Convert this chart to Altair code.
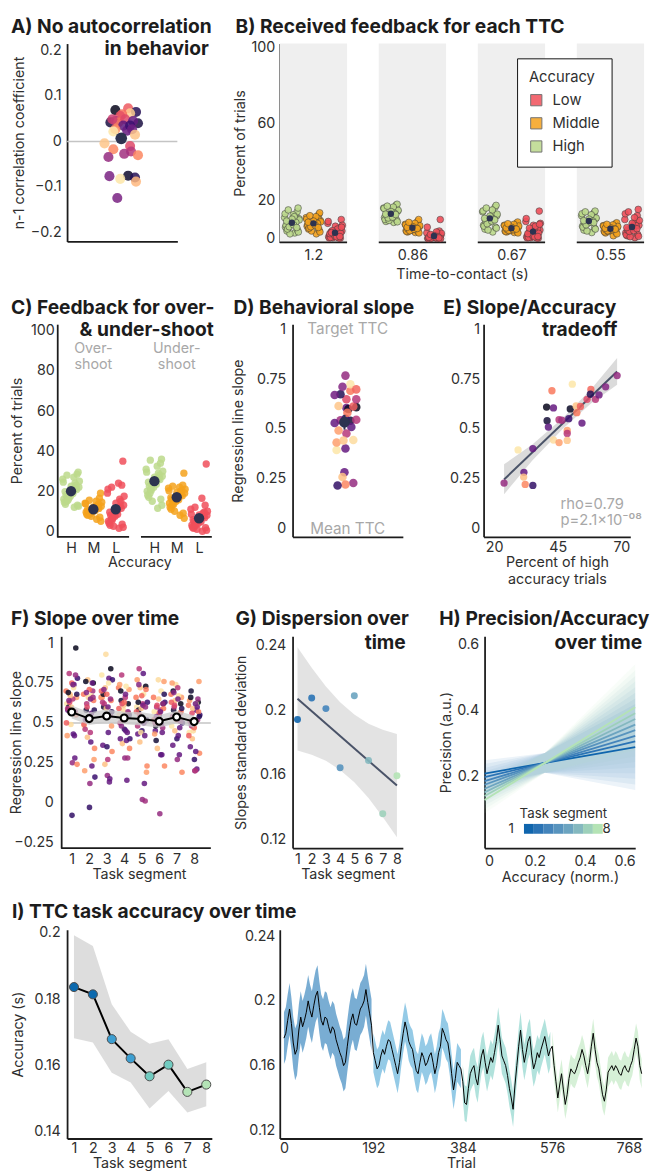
import altair as alt
import pandas as pd

FONT = "Inter"
INK = "#1c1c1c"
AXC = "#2f2f2f"
GRAY_T = "#a8a8a8"
NAVY = "#2d3350"
SLATE = "#4a5368"
RED, ORANGE, GREEN = "#f04f5a", "#f5a21c", "#bcd98b"
SEG_COLORS = ["#0f65ad", "#2a73b5", "#4484bb", "#5894be", "#6ca4c0", "#84b8bf", "#9dd0ba", "#b4e3b5"]
RUN_COLORS = ["#0b69ae", "#3c9ed1", "#71cbc0", "#b4e3b6"]
MAGMA = alt.Scale(scheme="magma", domain=[0, 1])

# ---------------- data ----------------
JIT = [0.12, -0.85, 0.47, -0.31, 0.93, -0.66, 0.05, 0.71, -0.52, 0.28,
       -0.97, 0.39, -0.14, 0.84, -0.43, 0.61, -0.78, 0.19, -0.25, 0.99,
       -0.59, 0.33, -0.07, 0.76, -0.91, 0.54, -0.36, 0.02, 0.88, -0.70,
       0.23, -0.48, 0.66]

SUBJ_HIGH = [23.9, 29.4, 31.7, 31.6, 32.2, 35.2, 35.2, 40.6, 40.8, 41.3,
             42.7, 43.3, 43.3, 45.5, 45.5, 46.6, 48.7, 48.7, 48.7, 49.3,
             49.9, 50.7, 52.2, 52.5, 53.9, 54.5, 56.5, 58.0, 57.8, 59.8,
             61.2, 63.8, 68.3]
SUBJ_SLOPE = [0.229, 0.395, 0.283, 0.259, 0.222, 0.402, 0.217, 0.610, 0.542, 0.510,
              0.692, 0.606, 0.445, 0.432, 0.547, 0.544, 0.493, 0.478, 0.443, 0.552,
              0.601, 0.725, 0.616, 0.582, 0.613, 0.530, 0.649, 0.699, 0.675, 0.649,
              0.671, 0.712, 0.768]
SUBJ_SHADE = [0.42, 0.95, 0.30, 0.87, 0.75, 0.30, 0.18, 0.05, 0.10, 0.28,
              0.72, 0.30, 0.93, 0.80, 0.50, 0.45, 0.80, 0.50, 0.88, 0.20,
              0.07, 0.95, 0.88, 0.72, 0.66, 0.30, 0.60, 0.68, 0.15, 0.50,
              0.33, 0.38, 0.42]
D_SPREAD = [9, -8, 0, -2, 1, 1, -7, 12, 6, 7,
            6, 2, 9, -8, 12, -4, -6, 2, -1, 1,
            4, 6, -6, 3, 9, -10, 2, 12, -4, 12,
            -10, -2, 1]
D_MEAN = [0.534, 0.497, 0.571]

A_R = [0.069, 0.073, 0.065, 0.062, 0.060, 0.056, 0.042, 0.045, 0.042, 0.040,
       0.049, 0.049, 0.045, 0.035, 0.027, 0.022, 0.024, 0.035, 0.027, 0.015,
       -0.004, -0.017, -0.010, -0.022, -0.027, -0.034, -0.030, -0.075, -0.079, -0.076,
       -0.082, -0.088, -0.124]
A_SHADE = [0.05, 0.65, 0.15, 0.90, 0.70, 0.62, 0.12, 0.45, 0.72, 0.12,
           0.55, 0.60, 0.30, 0.28, 0.75, 0.95, 0.30, 0.20, 0.32, 0.88,
           0.88, 0.75, 0.60, 0.50, 0.45, 0.42, 0.75, 0.08, 0.15, 0.35,
           0.95, 0.85, 0.35]
A_SPREAD = [-7, 6, 14, 8, 0, -2, -12, -7, -4, 16,
            -10, 3, 11, 1, -7, -9, 5, 8, 10, 13,
            -18, -9, 8, 9, 2, -14, 16, 6, 13, -13,
            -2, 14, -5]
A_MEAN = [0.007, -0.003, 0.017]

TTC = ["1.2", "0.86", "0.67", "0.55"]
ACC = ["High", "Middle", "Low"]
B_HIGH = [
    [9.5, 6.0, 12.0, 7.5, 10.5, 4.0, 8.8, 14.0, 5.5, 9.0, 11.0, 3.0, 8.0, 16.0, 6.5, 10.0, 7.0, 12.5, 2.5, 9.8, 5.0, 11.5, 7.8, 4.5, 13.0, 8.5, 6.2, 10.2, 3.5, 9.2, 7.2, 15.0, 5.8],
    [13.5, 11.0, 15.5, 12.0, 14.5, 9.0, 13.0, 17.5, 10.5, 14.0, 16.0, 8.5, 12.5, 18.0, 11.5, 15.0, 10.0, 13.8, 9.5, 14.8, 12.2, 16.5, 11.8, 9.8, 15.8, 13.2, 10.8, 14.2, 8.8, 12.8, 11.2, 17.0, 12.6],
    [10.5, 7.0, 13.0, 9.0, 12.0, 5.0, 10.8, 16.5, 7.5, 11.5, 14.0, 3.5, 10.0, 17.4, 8.0, 12.5, 6.5, 11.0, 4.5, 12.8, 9.5, 15.0, 8.5, 6.0, 14.5, 10.2, 7.8, 11.8, 5.5, 10.6, 9.2, 16.0, 9.8],
    [9.0, 6.5, 11.0, 8.0, 10.5, 4.5, 9.5, 13.5, 7.0, 10.0, 12.0, 3.2, 8.8, 14.4, 7.5, 11.2, 6.0, 9.8, 4.0, 10.8, 8.5, 12.5, 8.2, 5.5, 13.0, 9.2, 7.2, 10.2, 5.0, 9.4, 8.6, 14.0, 8.4],
]
B_MID = [
    [8.5, 6.5, 10.0, 7.0, 9.5, 5.0, 8.2, 12.5, 6.0, 9.0, 11.0, 2.5, 7.8, 13.5, 6.8, 10.5, 7.2, 9.8, 4.0, 8.8, 5.5, 11.5, 7.5, 4.5, 10.2, 8.0, 6.2, 9.2, 3.5, 8.6, 7.0, 12.0, 5.8],
    [5.5, 4.2, 7.0, 4.8, 6.2, 3.5, 5.8, 9.0, 4.0, 6.0, 7.5, 3.2, 5.2, 10.0, 4.5, 6.5, 3.8, 5.6, 4.4, 6.8, 5.0, 8.0, 4.6, 3.6, 7.2, 5.4, 4.1, 6.3, 3.0, 5.9, 4.9, 8.5, 5.3],
    [5.2, 4.0, 6.5, 4.6, 6.0, 3.5, 5.5, 8.0, 4.2, 5.8, 7.0, 3.2, 5.0, 8.7, 4.4, 6.2, 3.8, 5.3, 4.1, 6.6, 4.8, 7.5, 4.5, 3.6, 6.8, 5.1, 4.3, 5.9, 3.0, 5.6, 4.7, 7.8, 5.0],
    [5.0, 4.0, 6.2, 4.5, 5.8, 3.0, 5.3, 7.8, 4.2, 5.6, 6.8, 1.5, 4.8, 8.3, 4.3, 6.0, 3.5, 5.2, 3.8, 6.4, 4.6, 7.2, 4.4, 3.2, 6.6, 5.1, 4.1, 5.7, 2.5, 5.4, 4.7, 7.5, 4.9],
]
B_LOW = [
    [3.0, 1.0, 5.5, 0.5, 4.0, 2.0, 6.5, 0.2, 3.5, 1.5, 8.0, 0.8, 2.5, 10.0, 1.2, 4.5, 0.4, 3.8, 2.2, 7.0, 0.6, 5.0, 1.8, 2.8, 9.0, 0.3, 4.2, 1.4, 6.0, 2.6, 0.9, 3.2, 1.1],
    [1.0, 0.2, 2.5, 0.5, 1.8, 0.0, 1.2, 4.0, 0.3, 1.5, 3.0, 0.1, 0.8, 10.0, 0.4, 2.0, 0.0, 1.3, 0.6, 2.8, 0.2, 3.5, 0.9, 0.1, 6.0, 1.1, 0.3, 1.6, 0.0, 0.7, 0.5, 2.2, 0.4],
    [3.5, 1.0, 6.0, 0.5, 4.5, 2.0, 7.0, 0.2, 3.0, 1.5, 9.0, 0.8, 2.5, 14.4, 1.2, 5.0, 0.4, 3.8, 2.2, 8.0, 0.6, 6.5, 1.8, 2.8, 10.5, 0.3, 4.2, 1.4, 7.5, 2.6, 0.9, 5.5, 1.1],
    [6.0, 3.0, 8.5, 4.0, 7.0, 1.5, 6.5, 12.0, 2.5, 7.5, 10.0, 0.5, 5.5, 15.3, 3.5, 9.0, 2.0, 6.2, 1.0, 9.5, 4.5, 11.0, 5.0, 2.2, 13.0, 6.8, 3.8, 8.0, 1.2, 5.8, 4.2, 14.0, 5.2],
]
B_MEAN = {"High": [8.3, 13.0, 10.6, 9.2], "Middle": [8.0, 5.7, 5.4, 5.2], "Low": [3.1, 1.4, 3.7, 6.1]}

SHOOT = ["Over-shoot", "Under-shoot"]
SHOOT_LABEL = ["Over-\nshoot", "Under-\nshoot"]
C_VALUES = {
    ("Over-shoot", "High"): [20.5, 16.0, 24.0, 18.5, 22.0, 13.5, 19.5, 28.5, 15.0, 21.0, 26.0, 12.0, 19.0, 29.5, 17.0, 23.0, 14.5, 20.0, 16.5, 25.0, 18.0, 27.0, 17.5, 13.0, 24.5, 21.5, 15.5, 22.5, 12.5, 19.8, 18.8, 28.0, 20.8],
    ("Over-shoot", "Middle"): [11.0, 9.5, 13.0, 10.0, 12.5, 8.0, 11.5, 16.5, 9.0, 12.0, 14.0, 6.0, 10.5, 19.0, 9.2, 13.5, 8.5, 11.2, 7.5, 14.5, 10.2, 15.0, 9.8, 7.0, 13.8, 11.8, 8.8, 12.2, 5.0, 10.8, 10.4, 15.5, 11.4],
    ("Over-shoot", "Low"): [10.0, 5.0, 16.0, 7.0, 13.0, 3.0, 11.0, 23.0, 6.0, 12.0, 19.0, 1.5, 9.0, 35.0, 5.5, 15.0, 4.0, 10.5, 2.5, 17.5, 8.0, 24.0, 7.5, 3.5, 21.0, 12.5, 6.5, 14.0, 2.0, 9.5, 8.5, 22.0, 11.5],
    ("Under-shoot", "High"): [25.0, 20.0, 29.0, 23.0, 27.5, 17.0, 25.5, 34.0, 19.0, 26.0, 31.0, 11.5, 24.0, 36.0, 21.0, 28.0, 18.0, 25.2, 15.0, 30.0, 22.5, 32.5, 22.0, 16.0, 29.5, 26.5, 20.5, 27.0, 13.0, 24.5, 23.5, 35.5, 25.8],
    ("Under-shoot", "Middle"): [17.0, 14.0, 20.0, 15.5, 19.0, 11.0, 17.5, 23.0, 13.0, 18.0, 21.5, 8.0, 16.5, 29.0, 14.5, 20.5, 12.0, 17.2, 10.0, 21.0, 16.0, 22.0, 15.0, 9.0, 20.2, 18.5, 13.5, 19.5, 6.5, 16.8, 15.8, 22.5, 17.8],
    ("Under-shoot", "Low"): [6.0, 3.0, 9.0, 4.5, 8.0, 1.5, 6.5, 13.0, 2.5, 7.0, 11.0, 0.0, 5.5, 33.6, 3.5, 9.5, 2.0, 6.2, 1.0, 10.0, 5.0, 16.5, 4.0, 1.8, 8.5, 7.5, 3.2, 8.2, 0.5, 5.8, 4.8, 12.0, 6.8],
}
C_MEAN = {("Over-shoot", "High"): 20, ("Over-shoot", "Middle"): 11, ("Over-shoot", "Low"): 11,
          ("Under-shoot", "High"): 25, ("Under-shoot", "Middle"): 17, ("Under-shoot", "Low"): 6.5}

E_FIT_X = [23.9, 68.3]
E_FIT_Y = [0.247, 0.789]
E_CI_X = [23.9, 35.0, 47.0, 58.0, 68.3]
E_CI_LO = [0.173, 0.342, 0.502, 0.628, 0.722]
E_CI_HI = [0.323, 0.422, 0.556, 0.698, 0.856]

SEGMENTS = [1, 2, 3, 4, 5, 6, 7, 8]
SEG_RUN = [1, 1, 2, 2, 3, 3, 4, 4]
F_SLOPES = [
    [0.25, 0.62, 0.42, 0.68, 0.24, 0.58, -0.08, 0.97, 0.60, 0.43, 0.70, 0.74, 0.49, 0.66, 0.81, 0.57, 0.42, 0.65, 0.67, 0.78, 0.69, 0.72, 0.60, 0.55, 0.50, 0.28, 0.63, 0.75, 0.68, 0.59, 0.74, 0.64, 0.80],
    [0.12, 0.48, 0.23, 0.41, 0.34, 0.52, -0.03, 0.75, 0.58, 0.38, 0.68, 0.56, 0.66, 0.27, 0.62, 0.70, 0.20, 0.44, 0.77, 0.16, 0.76, 0.67, 0.53, 0.64, 0.49, 0.75, 0.60, 0.71, 0.58, 0.46, 0.65, 0.69, 0.66],
    [0.17, 0.80, 0.13, 0.24, 0.32, 0.36, 0.35, 0.84, 0.60, 0.44, 0.66, 0.78, 0.93, 0.48, 0.62, 0.55, 0.66, 0.27, 0.72, 0.77, 0.68, 0.75, 0.59, 0.64, 0.70, 0.15, 0.54, 0.68, 0.57, 0.63, 0.60, 0.71, 0.65],
    [0.28, 0.55, 0.14, 0.37, 0.34, 0.40, 0.46, 0.62, 0.64, 0.45, 0.72, 0.39, 0.58, 0.71, 0.80, 0.28, 0.74, 0.66, 0.52, 0.40, 0.70, 0.73, 0.61, 0.56, 0.59, 0.44, 0.62, 0.63, 0.55, 0.50, 0.68, 0.48, 0.57],
    [0.02, 0.60, 0.12, 0.38, 0.23, 0.43, 0.45, 0.73, 0.58, 0.81, 0.66, 0.50, 0.44, 0.19, 0.84, 0.01, 0.77, 0.62, 0.72, 0.63, 0.63, 0.68, 0.59, 0.71, 0.57, 0.42, 0.55, 0.67, 0.52, 0.48, 0.61, 0.74, 0.60],
    [-0.07, 0.57, 0.30, 0.34, 0.23, 0.45, 0.55, 0.62, 0.39, 0.30, 0.66, 0.49, 0.77, 0.76, 0.60, 0.47, 0.43, 0.58, 0.53, 0.63, 0.48, 0.70, 0.65, 0.59, 0.52, 0.44, 0.61, 0.56, 0.68, 0.50, 0.57, 0.54, 0.62],
    [0.27, 0.48, 0.30, 0.45, 0.19, 0.36, 0.40, 0.62, 0.58, 0.42, 0.68, 0.53, 0.74, 0.66, 0.60, 0.56, 0.75, 0.72, 0.64, 0.50, 0.70, 0.67, 0.55, 0.57, 0.63, 0.47, 0.61, 0.52, 0.59, 0.54, 0.65, 0.69, 0.51],
    [0.20, 0.44, 0.21, 0.40, 0.31, 0.35, 0.27, 0.63, 0.70, 0.32, 0.61, 0.58, 0.45, 0.76, 0.48, 0.52, 0.64, 0.20, 0.59, 0.55, 0.66, 0.62, 0.50, 0.57, 0.42, 0.60, 0.56, 0.47, 0.54, 0.51, 0.62, 0.49, 0.65],
]
F_MEAN = [0.568, 0.527, 0.543, 0.531, 0.525, 0.510, 0.537, 0.508]
F_LO = [0.527, 0.487, 0.502, 0.492, 0.483, 0.470, 0.498, 0.470]
F_HI = [0.609, 0.567, 0.584, 0.570, 0.567, 0.550, 0.576, 0.546]

G_SD = [0.1942, 0.2075, 0.2009, 0.1643, 0.2089, 0.1688, 0.1357, 0.1593]
G_FIT_X = [1, 8]
G_FIT_Y = [0.207, 0.1532]
G_CI_LO = [0.175, 0.1723, 0.1686, 0.1629, 0.1552, 0.1455, 0.1338, 0.1212]
G_CI_HI = [0.239, 0.2263, 0.2146, 0.2049, 0.1972, 0.1915, 0.1878, 0.1852]

H_LINE_X = [0.0, 0.6]
H_Y0 = [0.210, 0.199, 0.187, 0.176, 0.164, 0.153, 0.142, 0.130]
H_Y1 = [0.290, 0.307, 0.324, 0.341, 0.358, 0.375, 0.392, 0.410]
H_FAN_X = [0.0, 0.24, 0.6]
H_FAN_LO = [[0.170, 0.212, 0.160], [0.159, 0.212, 0.177], [0.147, 0.212, 0.194], [0.136, 0.212, 0.211],
            [0.124, 0.212, 0.228], [0.113, 0.212, 0.245], [0.102, 0.212, 0.262], [0.090, 0.212, 0.280]]
H_FAN_HI = [[0.250, 0.272, 0.420], [0.239, 0.272, 0.437], [0.227, 0.272, 0.454], [0.216, 0.272, 0.471],
            [0.204, 0.272, 0.488], [0.193, 0.272, 0.505], [0.182, 0.272, 0.522], [0.170, 0.272, 0.540]]

I_ACC = [0.1837, 0.1815, 0.1680, 0.1622, 0.1568, 0.1603, 0.1521, 0.1543]
I_LO = [0.1683, 0.1670, 0.1579, 0.1549, 0.1471, 0.1524, 0.1459, 0.1478]
I_HI = [0.1993, 0.1961, 0.1785, 0.1702, 0.1666, 0.1680, 0.1590, 0.1610]

RUNS = [1, 2, 3, 4]
RUN_ACC = [
    [0.177, 0.180, 0.188, 0.195, 0.186, 0.174, 0.167, 0.170, 0.182, 0.190,
     0.184, 0.188, 0.193, 0.200, 0.194, 0.190, 0.197, 0.203, 0.206, 0.196,
     0.188, 0.185, 0.190, 0.189, 0.184, 0.180, 0.184, 0.182, 0.176, 0.172,
     0.168, 0.165, 0.160, 0.162, 0.172, 0.181, 0.188, 0.192, 0.186, 0.185,
     0.190, 0.195, 0.197, 0.200, 0.207, 0.199, 0.192, 0.185],
    [0.168, 0.163, 0.158, 0.160, 0.166, 0.170, 0.167, 0.172, 0.176, 0.175,
     0.170, 0.165, 0.160, 0.155, 0.162, 0.172, 0.180, 0.187, 0.182, 0.175,
     0.172, 0.170, 0.163, 0.157, 0.155, 0.162, 0.168, 0.165, 0.160, 0.162,
     0.166, 0.168, 0.162, 0.155, 0.160, 0.168, 0.172, 0.183, 0.180, 0.176,
     0.174, 0.166, 0.155, 0.145, 0.152, 0.162, 0.160, 0.158],
    [0.150, 0.137, 0.136, 0.146, 0.155, 0.158, 0.160, 0.152, 0.148, 0.158,
     0.166, 0.170, 0.162, 0.155, 0.160, 0.165, 0.162, 0.168, 0.175, 0.185,
     0.176, 0.166, 0.163, 0.160, 0.154, 0.146, 0.140, 0.133, 0.148, 0.160,
     0.172, 0.182, 0.170, 0.162, 0.168, 0.175, 0.178, 0.166, 0.158, 0.162,
     0.168, 0.165, 0.170, 0.174, 0.178, 0.172, 0.166, 0.170],
    [0.172, 0.160, 0.150, 0.140, 0.148, 0.155, 0.145, 0.136, 0.142, 0.152,
     0.158, 0.156, 0.155, 0.158, 0.162, 0.165, 0.170, 0.166, 0.160, 0.155,
     0.162, 0.172, 0.180, 0.170, 0.162, 0.158, 0.150, 0.142, 0.138, 0.145,
     0.156, 0.158, 0.160, 0.157, 0.160, 0.158, 0.155, 0.154, 0.158, 0.160,
     0.157, 0.156, 0.160, 0.163, 0.170, 0.177, 0.172, 0.160, 0.155],
]
RUN_HALFWIDTH = [0.016, 0.012, 0.011, 0.009]
TRIALS_PER_RUN = 192
TRIAL_STEP = 4


# ---------------- helpers ----------------
def sc(lo, hi):
    return alt.Scale(domain=[lo, hi], nice=False, zero=False)


def X(field, s, ax):
    return alt.X(f"{field}:Q", scale=s, axis=ax)


def Y(field, s, ax, **kw):
    return alt.Y(f"{field}:Q", scale=s, axis=ax, **kw)


def tx(text, x, base, align="left", size=19.5, weight="bold", color=INK):
    # `base` is the text baseline; drawn with a top baseline for tight bounds
    return alt.Chart(pd.DataFrame({"t": [text]})).mark_text(
        align=align, baseline="top", font=FONT, fontSize=size,
        fontWeight=weight, color=color).encode(
        text="t:N", x=alt.value(x), y=alt.value(round(base - 0.79 * size, 1)))


shade_color = alt.Color("shade:Q", scale=MAGMA, legend=None)

# ---------------- A ----------------
a_xs, a_ys = sc(-56, 56), sc(-0.2195, 0.2151)
a_xax = alt.Axis(labels=False, title=None)
a_yax = alt.Axis(values=[-0.2, -0.1, 0, 0.1, 0.2], format=".1~f", labelPadding=6,
                 title="n-1 correlation coefficient", titleX=-48, titleBaseline="middle")
a_df = pd.DataFrame({"sx": A_SPREAD, "r": A_R, "shade": A_SHADE})
a_mean = pd.DataFrame({"sx": [-1], "r": [A_MEAN[0]], "lo": [A_MEAN[1]], "hi": [A_MEAN[2]]})
panel_a = alt.layer(
    alt.Chart(pd.DataFrame({"r": [0.0]})).mark_rule(color="#c4c4c4", strokeWidth=1.5).encode(
        y=Y("r", a_ys, a_yax)),
    alt.Chart(a_df).mark_circle(size=105, opacity=0.85).encode(
        x=X("sx", a_xs, a_xax), y=Y("r", a_ys, a_yax), color=shade_color),
    alt.Chart(a_mean).mark_rule(color=NAVY, strokeWidth=2).encode(
        x=X("sx", a_xs, a_xax), y=Y("lo", a_ys, a_yax), y2="hi:Q"),
    alt.Chart(a_mean).mark_circle(size=140, color=NAVY, opacity=1).encode(
        x=X("sx", a_xs, a_xax), y=Y("r", a_ys, a_yax)),
    tx("A) No autocorrelation", -57, -10),
    tx("in behavior", 144, 12.5, align="right"),
).properties(width=112, height=201)

# ---------------- B ----------------
b_xs, b_ys = sc(0, 3.68), sc(-2, 102)
B_OFF = {"High": 0.122, "Middle": 0.34, "Low": 0.558}
ttc_expr = "[" + ",".join(f"'{t}'" for t in TTC) + "][floor(datum.value)]"
b_xax = alt.Axis(values=[i + 0.34 for i in range(len(TTC))], labelExpr=ttc_expr, domain=False,
                 title="Time-to-contact (s)", titleY=26, labelPadding=6)
b_yax = alt.Axis(values=[0, 20, 60, 100], title="Percent of trials", titleX=-40, titleBaseline="middle",
                 labelPadding=5)
b_rows, b_means = [], []
for ti, t in enumerate(TTC):
    for acc, lists in (("High", B_HIGH), ("Middle", B_MID), ("Low", B_LOW)):
        for i, v in enumerate(lists[ti]):
            b_rows.append({"acc": acc, "pct": v, "bx": ti + B_OFF[acc] + JIT[i] * 0.075})
        b_means.append({"pct": B_MEAN[acc][ti], "bx": ti + B_OFF[acc]})
b_df, b_mdf = pd.DataFrame(b_rows), pd.DataFrame(b_means)
b_band = pd.DataFrame({"bx": [float(i) for i in range(4)], "bx2": [i + 0.68 for i in range(4)],
                       "y0": [-2.0] * 4, "y1": [102.0] * 4})
b_color = alt.Color("acc:N", scale=alt.Scale(domain=["Low", "Middle", "High"], range=[RED, ORANGE, GREEN]),
                    legend=alt.Legend(title="Accuracy", orient="none", legendX=241, legendY=15,
                                      symbolType="square", symbolSize=130, symbolStrokeColor="#5a5a5a",
                                      symbolStrokeWidth=1, symbolOpacity=0.85, padding=12,
                                      strokeColor="#111111", fillColor="white", titleFontSize=15,
                                      labelFontSize=15, rowPadding=6.5, titlePadding=8, labelOffset=9))
panel_b = alt.layer(
    alt.Chart(b_band).mark_rect(color="#efefef").encode(
        x=X("bx", b_xs, b_xax), x2="bx2:Q", y=Y("y0", b_ys, b_yax), y2="y1:Q"),
    alt.Chart(b_band).mark_rule(color=INK, strokeWidth=1.8).encode(
        x=X("bx", b_xs, b_xax), x2="bx2:Q", y=Y("y0", b_ys, b_yax)),
    alt.Chart(b_df).mark_circle(size=46, opacity=0.9, stroke="#3b3b3b", strokeWidth=0.6).encode(
        x=X("bx", b_xs, b_xax), y=Y("pct", b_ys, b_yax), color=b_color),
    alt.Chart(b_mdf).mark_circle(size=42, color=NAVY, opacity=1).encode(
        x=X("bx", b_xs, b_xax), y=Y("pct", b_ys, b_yax)),
    tx("B) Received feedback for each TTC", -45, -10),
).properties(width=370, height=202)

# ---------------- C ----------------
C_SLOTS = {"Over-shoot": {"High": 0.0, "Middle": 1.0, "Low": 2.0},
           "Under-shoot": {"High": 3.73, "Middle": 4.73, "Low": 5.73}}
c_xs, c_ys = sc(-0.176, 6.30), sc(-2.8, 103.4)
c_xax = alt.Axis(values=[0, 1, 2, 3.73, 4.73, 5.73],
                 labelExpr="['H','M','L'][round(datum.value > 3 ? datum.value - 3.73 : datum.value)]",
                 domain=False, title="Accuracy", titleY=19.5, labelPadding=4.5)
c_yax = alt.Axis(values=[0, 20, 40, 60, 80, 100], title="Percent of trials", titleX=-40,
                 titleBaseline="middle", offset=10, labelPadding=3)
c_rows, c_means = [], []
for sh in SHOOT:
    for acc in ACC:
        for i, v in enumerate(C_VALUES[(sh, acc)]):
            c_rows.append({"acc": acc, "pct": v, "cx": C_SLOTS[sh][acc] + JIT[i] * 0.38})
        c_means.append({"pct": C_MEAN[(sh, acc)], "cx": C_SLOTS[sh][acc]})
c_df, c_mdf = pd.DataFrame(c_rows), pd.DataFrame(c_means)
c_axis_df = pd.DataFrame({"cx": [-0.617, 3.13], "cx2": [2.599, 6.3], "y0": [-2.8, -2.8]})
c_lab = pd.DataFrame({"cx": [C_SLOTS[s]["Middle"] for s in SHOOT], "t": SHOOT_LABEL})
acc_color = alt.Color("acc:N", scale=alt.Scale(domain=["Low", "Middle", "High"], range=[RED, ORANGE, GREEN]),
                      legend=None)
panel_c = alt.layer(
    alt.Chart(c_axis_df).mark_rule(color=INK, strokeWidth=1.8).encode(
        x=X("cx", c_xs, c_xax), x2="cx2:Q", y=Y("y0", c_ys, c_yax)),
    alt.Chart(c_df).mark_circle(size=55, opacity=0.85).encode(
        x=X("cx", c_xs, c_xax), y=Y("pct", c_ys, c_yax), color=acc_color),
    alt.Chart(c_mdf).mark_circle(size=110, color=NAVY, opacity=1).encode(
        x=X("cx", c_xs, c_xax), y=Y("pct", c_ys, c_yax)),
    alt.Chart(c_lab).mark_text(lineBreak="\n", lineHeight=17, baseline="top", align="center",
                               fontSize=14.5, color=GRAY_T, font=FONT).encode(
        x=X("cx", c_xs, c_xax), y=alt.value(18), text="t:N"),
    tx("C) Feedback for over-", -57, -10),
    tx("& under-shoot", 149, 12.5, align="right"),
).properties(width=147, height=216)

# ---------------- D ----------------
d_xs, d_ys = sc(-52.7, 59.3), sc(-0.041, 1.026)
d_xax = alt.Axis(labels=False, title=None)
d_yax = alt.Axis(values=[0, 0.25, 0.5, 0.75, 1], format=".2~f", title="Regression line slope",
                 titleX=-55, titleBaseline="middle", labelPadding=7)
d_df = pd.DataFrame({"sx": D_SPREAD, "slope": SUBJ_SLOPE, "shade": SUBJ_SHADE})
d_mean = pd.DataFrame({"sx": [0], "slope": [D_MEAN[0]], "lo": [D_MEAN[1]], "hi": [D_MEAN[2]]})
d_txt = pd.DataFrame({"t": ["Target TTC", "Mean TTC"], "slope": [1.0, 0.0]})
panel_d = alt.layer(
    alt.Chart(d_txt).mark_text(baseline="middle", align="center", fontSize=15.5, color=GRAY_T, font=FONT).encode(
        x=alt.value(56), y=Y("slope", d_ys, d_yax), text="t:N"),
    alt.Chart(d_df).mark_circle(size=75, opacity=0.85).encode(
        x=X("sx", d_xs, d_xax), y=Y("slope", d_ys, d_yax), color=shade_color),
    alt.Chart(d_mean).mark_rule(color=NAVY, strokeWidth=2).encode(
        x=X("sx", d_xs, d_xax), y=Y("lo", d_ys, d_yax), y2="hi:Q"),
    alt.Chart(d_mean).mark_circle(size=120, color=NAVY, opacity=1).encode(
        x=X("sx", d_xs, d_xax), y=Y("slope", d_ys, d_yax)),
    tx("D) Behavioral slope", -60, -10),
).properties(width=112, height=216)

# ---------------- E ----------------
e_xs, e_ys = sc(15.86, 73.48), d_ys
e_xax = alt.Axis(values=[20, 45, 70], title=["Percent of high", "accuracy trials"], titleY=18.6,
                 titleLineHeight=18, labelPadding=3.6)
e_yax = alt.Axis(values=[0, 0.25, 0.5, 0.75, 1], format=".2~f", title=None, labelPadding=4)
e_df = pd.DataFrame({"hi_acc": SUBJ_HIGH, "slope": SUBJ_SLOPE, "shade": SUBJ_SHADE})
e_ci = pd.DataFrame({"hi_acc": E_CI_X, "lo": E_CI_LO, "hi": E_CI_HI})
e_fit = pd.DataFrame({"hi_acc": E_FIT_X, "slope": E_FIT_Y})
panel_e = alt.layer(
    alt.Chart(e_ci).mark_area(color="#cfcfcf", opacity=0.75).encode(
        x=X("hi_acc", e_xs, e_xax), y=Y("lo", e_ys, e_yax), y2="hi:Q"),
    alt.Chart(e_fit).mark_line(color=SLATE, strokeWidth=2).encode(
        x=X("hi_acc", e_xs, e_xax), y=Y("slope", e_ys, e_yax)),
    alt.Chart(e_df).mark_circle(size=55, opacity=0.85).encode(
        x=X("hi_acc", e_xs, e_xax), y=Y("slope", e_ys, e_yax), color=shade_color),
    tx("rho=0.79", 78, 187.5, size=15, weight="normal", color=GRAY_T),
    tx("p=2.1x10\u207b\u2070\u2078", 78, 204, size=15, weight="normal", color=GRAY_T),
    tx("E) Slope/Accuracy", -41, -10),
    tx("tradeoff", 136, 12.5, align="right"),
).properties(width=149, height=216)

# ---------------- F ----------------
f_xs, f_ys = sc(0.7354, 8.956), sc(-0.285, 1.043)
f_xax = alt.Axis(values=SEGMENTS, title="Task segment", titleY=19.5, labelPadding=4.5, domain=False)
f_yax = alt.Axis(values=[-0.25, 0, 0.25, 0.5, 0.75, 1], format=".2~f", title="Regression line slope",
                 titleX=-45, titleBaseline="middle", offset=6, labelPadding=8)
f_rows = []
for si, seg in enumerate(SEGMENTS):
    for i, v in enumerate(F_SLOPES[si]):
        f_rows.append({"fx": seg + JIT[i] * 0.33, "slope": v, "shade": SUBJ_SHADE[i]})
f_df = pd.DataFrame(f_rows)
f_mean = pd.DataFrame({"fx": SEGMENTS, "slope": F_MEAN, "lo": F_LO, "hi": F_HI})
f_axis_df = pd.DataFrame({"fx": [0.398], "fx2": [8.956], "slope": [-0.285]})
panel_f = alt.layer(
    alt.Chart(f_axis_df).mark_rule(color=INK, strokeWidth=1.8).encode(
        x=X("fx", f_xs, f_xax), x2="fx2:Q", y=Y("slope", f_ys, f_yax)),
    alt.Chart(pd.DataFrame({"slope": [0.5]})).mark_rule(color="#c4c4c4", strokeWidth=1.5).encode(
        y=Y("slope", f_ys, f_yax)),
    alt.Chart(f_df).mark_circle(size=32, opacity=0.85).encode(
        x=X("fx", f_xs, f_xax), y=Y("slope", f_ys, f_yax), color=shade_color),
    alt.Chart(f_mean).mark_area(color="#c9c9c9", opacity=0.75).encode(
        x=X("fx", f_xs, f_xax), y=Y("lo", f_ys, f_yax), y2="hi:Q"),
    alt.Chart(f_mean).mark_line(color="black", strokeWidth=2).encode(
        x=X("fx", f_xs, f_xax), y=Y("slope", f_ys, f_yax)),
    alt.Chart(f_mean).mark_point(filled=True, fill="white", stroke="black", strokeWidth=2.2,
                                 size=50, opacity=1).encode(
        x=X("fx", f_xs, f_xax), y=Y("slope", f_ys, f_yax)),
    tx("F) Slope over time", -57, -11),
).properties(width=146, height=215)

# ---------------- G ----------------
g_xs, g_ys = sc(0.6535, 8.4158), sc(0.1145, 0.2457)
g_xax = alt.Axis(values=SEGMENTS, title="Task segment", titleY=19.7, labelPadding=4.7)
g_yax = alt.Axis(values=[0.12, 0.16, 0.2, 0.24], format=".2~f", title="Slopes standard deviation",
                 titleX=-51.5, titleBaseline="middle", labelPadding=7)
seg_color = alt.Color("seg:O", scale=alt.Scale(domain=SEGMENTS, range=SEG_COLORS), legend=None)
g_df = pd.DataFrame({"seg": SEGMENTS, "sd": G_SD})
g_ci = pd.DataFrame({"seg": SEGMENTS, "lo": G_CI_LO, "hi": G_CI_HI})
g_fit = pd.DataFrame({"seg": G_FIT_X, "sd": G_FIT_Y})
panel_g = alt.layer(
    alt.Chart(g_ci).mark_area(color="#d0d0d0", opacity=0.6).encode(
        x=X("seg", g_xs, g_xax), y=Y("lo", g_ys, g_yax), y2="hi:Q"),
    alt.Chart(g_fit).mark_line(color=SLATE, strokeWidth=2).encode(
        x=X("seg", g_xs, g_xax), y=Y("sd", g_ys, g_yax)),
    alt.Chart(g_df).mark_circle(size=50, opacity=0.9).encode(
        x=X("seg", g_xs, g_xax), y=Y("sd", g_ys, g_yax), color=seg_color),
    tx("G) Dispersion over", -58, -11),
    tx("time", 115, 13, align="right"),
).properties(width=112, height=215)

# ---------------- H ----------------
h_xs, h_ys = sc(0, 0.6), sc(-0.0152, 0.6247)
h_xax = alt.Axis(values=[0, 0.2, 0.4, 0.6], format=".1~f", title="Accuracy (norm.)", titleY=22.5,
                 labelPadding=6.5)
h_yax = alt.Axis(values=[0.2, 0.4, 0.6], format=".1~f", title="Precision (a.u.)", titleX=-39,
                 titleBaseline="middle", labelPadding=6)
h_fan_rows, h_line_rows = [], []
for si, seg in enumerate(SEGMENTS):
    for k, xv in enumerate(H_FAN_X):
        h_fan_rows.append({"seg": seg, "acc": xv, "lo": H_FAN_LO[si][k], "hi": H_FAN_HI[si][k]})
    h_line_rows.append({"seg": seg, "acc": H_LINE_X[0], "prec": H_Y0[si]})
    h_line_rows.append({"seg": seg, "acc": H_LINE_X[1], "prec": H_Y1[si]})
h_seg_color = alt.Color("seg:O", scale=alt.Scale(domain=SEGMENTS, range=SEG_COLORS),
                        legend=alt.Legend(title="Task segment", orient="none", legendX=35, legendY=174,
                                          direction="horizontal", columns=8, symbolType="square",
                                          symbolSize=100, symbolStrokeWidth=0, symbolOpacity=1,
                                          columnPadding=0, labelOffset=0, labelExpr="''", padding=0,
                                          titleFontSize=13.5, titleAnchor="middle", titlePadding=3))
panel_h = alt.layer(
    alt.Chart(pd.DataFrame(h_fan_rows)).mark_area(opacity=0.08).encode(
        x=X("acc", h_xs, h_xax), y=Y("lo", h_ys, h_yax, stack=None), y2="hi:Q", color=h_seg_color),
    alt.Chart(pd.DataFrame(h_line_rows)).mark_line(strokeWidth=1.8).encode(
        x=X("acc", h_xs, h_xax), y=Y("prec", h_ys, h_yax), color=h_seg_color),
    tx("1", 27, 199, size=13.5, weight="normal", color=AXC, align="center"),
    tx("8", 124, 199, size=13.5, weight="normal", color=AXC, align="center"),
    tx("H) Precision/Accuracy", -46, -11),
    tx("over time", 160, 13, align="right"),
).properties(width=153, height=215)

# ---------------- I left ----------------
il_xs, il_ys = sc(0.635, 8.295), sc(0.13804, 0.20097)
il_xax = alt.Axis(values=SEGMENTS, title="Task segment", titleY=18, labelPadding=3)
il_yax = alt.Axis(values=[0.14, 0.16, 0.18, 0.2], format=".2~f", title="Accuracy (s)", titleX=-49,
                  titleBaseline="middle", labelPadding=7)
il_df = pd.DataFrame({"seg": SEGMENTS, "acc": I_ACC, "lo": I_LO, "hi": I_HI, "run": SEG_RUN})
run_color_nolegend = alt.Color("run:O", scale=alt.Scale(domain=RUNS, range=RUN_COLORS), legend=None)
panel_il = alt.layer(
    alt.Chart(il_df).mark_area(color="#d9d9d9", opacity=0.9).encode(
        x=X("seg", il_xs, il_xax), y=Y("lo", il_ys, il_yax), y2="hi:Q"),
    alt.Chart(il_df).mark_line(color="black", strokeWidth=2).encode(
        x=X("seg", il_xs, il_xax), y=Y("acc", il_ys, il_yax)),
    alt.Chart(il_df).mark_circle(size=85, opacity=1, stroke="#4d4d4d", strokeWidth=1).encode(
        x=X("seg", il_xs, il_xax), y=Y("acc", il_ys, il_yax), color=run_color_nolegend),
    tx("I) TTC task accuracy over time", -56, -12),
).properties(width=147, height=212)

# ---------------- I right ----------------
ir_xs, ir_ys = sc(-9, 769), sc(0.11496, 0.24396)
ir_xax = alt.Axis(values=[0, 192, 384, 576, 768], title="Trial", titleY=18, labelPadding=3)
ir_yax = alt.Axis(values=[0.12, 0.16, 0.2, 0.24], format=".2~f", title=None, labelPadding=5)
ir_rows = []
for ri, run in enumerate(RUNS):
    for k, v in enumerate(RUN_ACC[ri]):
        ir_rows.append({"trial": ri * TRIALS_PER_RUN + k * TRIAL_STEP, "acc": v, "run": run,
                        "lo": v - RUN_HALFWIDTH[ri], "hi": v + RUN_HALFWIDTH[ri]})
ir_df = pd.DataFrame(ir_rows)
run_color = alt.Color("run:O", scale=alt.Scale(domain=RUNS, range=RUN_COLORS),
                      legend=alt.Legend(title="Scanning runs", orient="none", legendX=264, legendY=-2,
                                        direction="horizontal", columns=4, symbolType="circle",
                                        symbolSize=170, symbolStrokeWidth=0, symbolOpacity=1,
                                        columnPadding=16, labelOffset=0, labelExpr="''", padding=0,
                                        titleFontSize=14.5, titlePadding=7))
panel_ir = alt.layer(
    alt.Chart(ir_df).mark_area(opacity=0.55).encode(
        x=X("trial", ir_xs, ir_xax), y=Y("lo", ir_ys, ir_yax, stack=None), y2="hi:Q", color=run_color),
    alt.Chart(ir_df).mark_line(color="black", strokeWidth=1).encode(
        x=X("trial", ir_xs, ir_xax), y=Y("acc", ir_ys, ir_yax)),
).properties(width=368, height=212)

# ---------------- layout ----------------
row1 = alt.hconcat(panel_a, panel_b, spacing=104, bounds="flush")
row2 = alt.hconcat(panel_c, panel_d, panel_e, spacing=82, bounds="flush")
row3 = alt.hconcat(panel_f, panel_g, panel_h, spacing=83, bounds="flush")
row4 = alt.hconcat(panel_il, panel_ir, spacing=69, bounds="flush")

top_half = alt.vconcat(row1, row2, spacing=16)
bottom_half = alt.vconcat(row3, row4, spacing=18)

chart = alt.vconcat(top_half, bottom_half, spacing=22).properties(
    padding=0, background="white"
).configure(padding=0).configure_axis(
    domainColor=INK, domainWidth=1.8, ticks=False, tickSize=0, grid=False,
    labelFont=FONT, labelFontSize=14.5, labelColor=AXC, labelPadding=5,
    titleFont=FONT, titleFontSize=14.5, titleColor=AXC, titleFontWeight="normal",
).configure_view(stroke=None).configure_legend(
    labelFont=FONT, titleFont=FONT, titleFontWeight="normal", titleColor=AXC, labelColor=AXC,
)

chart.save("out.html", embed_options={"renderer": "svg", "actions": False})
